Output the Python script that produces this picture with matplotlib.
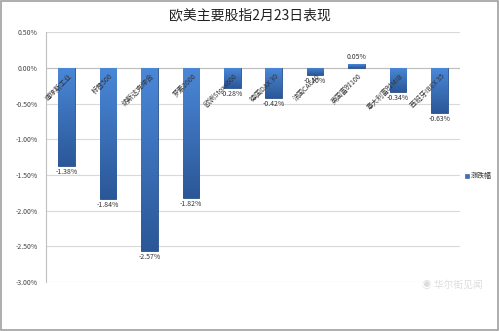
import matplotlib
matplotlib.use("Agg")
import matplotlib.pyplot as plt
import numpy as np
from matplotlib.patches import Rectangle
from matplotlib.ticker import FuncFormatter, MultipleLocator

plt.rcParams['font.family'] = ['Noto Sans CJK SC', 'DejaVu Sans']

categories = ['道琼斯工业', '标普500', '纳斯达克综合', '罗素2000', '欧洲Stoxx600',
              '德国DAX 30', '法国CAC40', '英国富时100', '意大利富时MIB', '西班牙IBEX 35']
values = [-1.38, -1.84, -2.57, -1.82, -0.28, -0.42, -0.10, 0.05, -0.34, -0.63]
series_name = '涨跌幅'
title = '欧美主要股指2月23日表现'

fig = plt.figure(figsize=(4.99, 3.31), dpi=100)
fig.patch.set_facecolor('white')
ax = fig.add_axes([0.092, 0.148, 0.830, 0.755])

x = np.arange(len(categories))
bars = ax.bar(x, values, width=0.4, color='#3C72C0', edgecolor='#2A518C', linewidth=0.6, zorder=3)

# gradient fill inside each bar
grad = np.linspace(0, 1, 256).reshape(-1, 1)
from matplotlib.colors import LinearSegmentedColormap
cmap = LinearSegmentedColormap.from_list('b', ['#2B5797', '#4A88D8'])
for b in bars:
    x0, y0 = b.get_x(), b.get_y()
    w, h = b.get_width(), b.get_height()
    lo, hi = min(y0, y0 + h), max(y0, y0 + h)
    im = ax.imshow(grad, extent=[x0, x0 + w, lo, hi], aspect='auto', cmap=cmap,
                   origin='lower', zorder=3.5)
    im.set_clip_path(b)

ax.set_xlim(-0.5, len(categories) - 0.5)
ax.set_ylim(-3.0, 0.5)
ax.yaxis.set_major_locator(MultipleLocator(0.5))
ax.yaxis.set_major_formatter(FuncFormatter(lambda v, p: f'{v:.2f}%'))
ax.grid(axis='y', color='#D9D9D9', linewidth=0.8, zorder=0)
ax.set_xticks([])
ax.tick_params(axis='y', length=0, labelsize=5, labelcolor='#444444', pad=6)
for s in ['top', 'right', 'bottom']:
    ax.spines[s].set_visible(False)
ax.spines['left'].set_color('#BFBFBF')
ax.spines['left'].set_linewidth(0.8)
ax.axhline(0, color='#BFBFBF', linewidth=0.8, zorder=2)

for xi, v, c in zip(x, values, categories):
    if v < 0:
        ax.text(xi, v - 0.03, f'{v:.2f}%', ha='center', va='top', fontsize=5, color='#333333', zorder=5)
    else:
        ax.text(xi, v + 0.05, f'{v:.2f}%', ha='center', va='bottom', fontsize=5, color='#333333', zorder=5)
    ax.text(xi + 0.1, -0.1, c, rotation=45, rotation_mode='anchor', ha='right', va='center',
            fontsize=5, color='#333333', zorder=6)

fig.text(0.5, 0.952, title, ha='center', va='center', fontsize=10, color='#222222')

# legend
fig.patches.append(Rectangle((465 / 499, 1 - 178 / 331), 4 / 499, 4 / 331, transform=fig.transFigure,
                             facecolor='#3C72C0', edgecolor='#2A518C', linewidth=0.4))
fig.text(471 / 499, 1 - 176 / 331, series_name, ha='left', va='center', fontsize=5, color='#333333')

# watermark
fig.text(0.845, 1 - 285 / 331, '◉ 华尔街见闻', ha='left', va='center', fontsize=7, color='#DDDDDD')

# border
fig.patches.append(Rectangle((0.002, 0.003), 0.995, 0.994, transform=fig.transFigure,
                             fill=False, edgecolor='#A0A0A0', linewidth=1.2))

fig.savefig('out.png', dpi=100)
